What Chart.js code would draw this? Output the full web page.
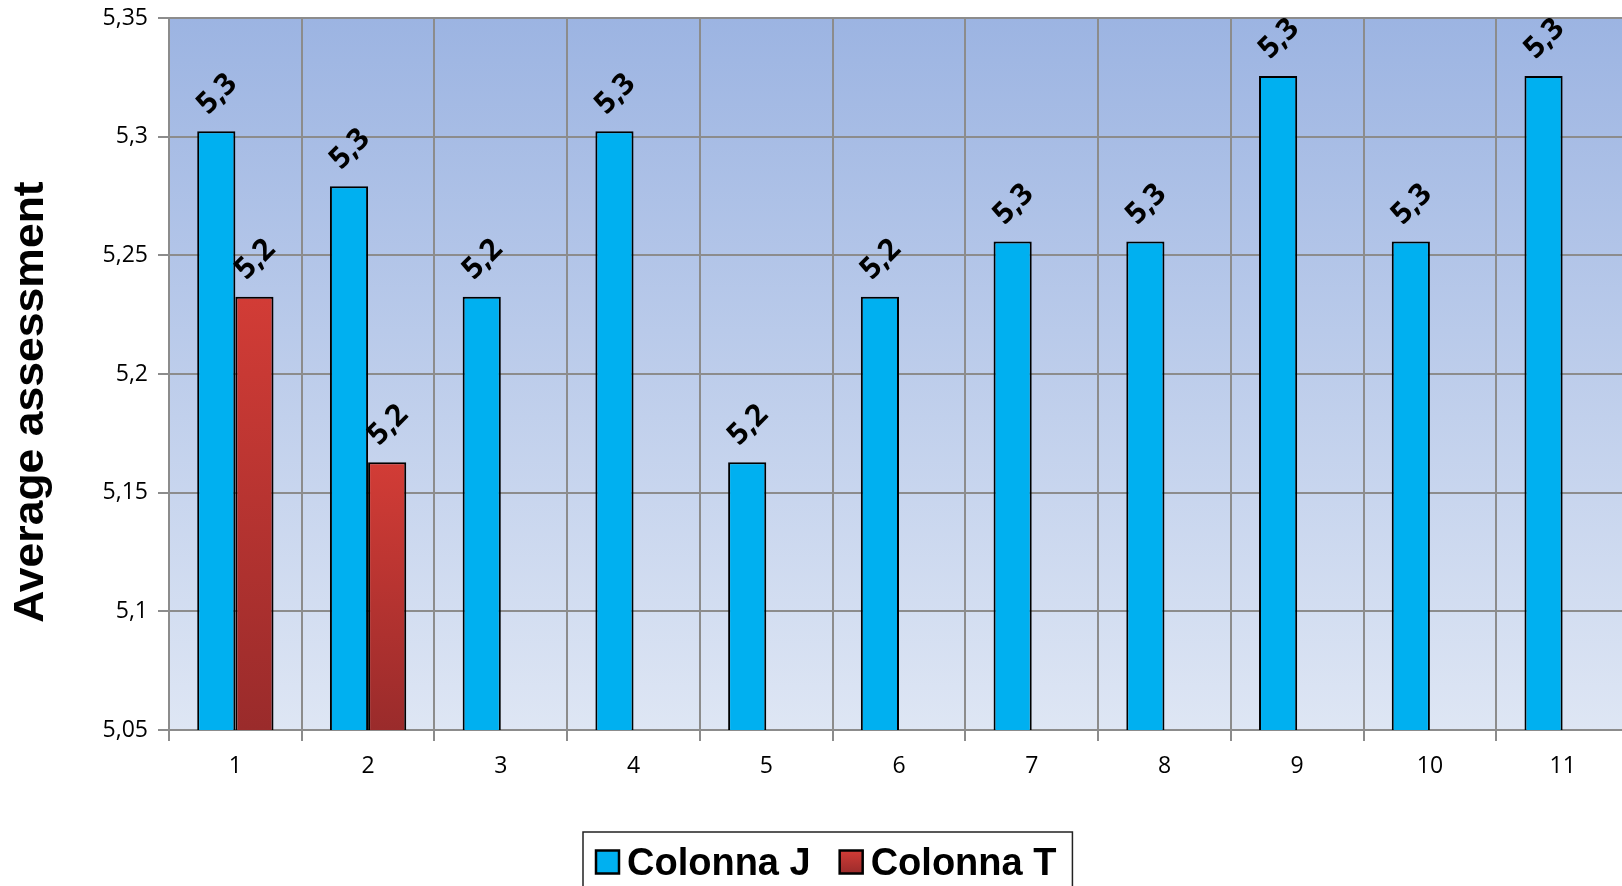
<!DOCTYPE html>
<html>
<head>
<meta charset="utf-8">
<script src="https://cdn.jsdelivr.net/npm/chart.js@4/dist/chart.umd.min.js"></script>
<style>
  html, body { margin: 0; padding: 0; background: #fff; overflow: hidden; }
  #chart { display: block; }
</style>
</head>
<body>
<canvas id="chart" width="1629" height="886"></canvas>
<script>
// dati
const categories = ['1', '2', '3', '4', '5', '6', '7', '8', '9', '10', '11'];
const colonnaJ = [5.3023, 5.2791, 5.2326, 5.3023, 5.1628, 5.2326, 5.2558, 5.2558, 5.3256, 5.2558, 5.3256];
const colonnaT = [5.2326, 5.1628, null, null, null, null, null, null, null, null, null];
const seriesNames = ['Colonna J', 'Colonna T'];
const yTickLabels = ['5,05', '5,1', '5,15', '5,2', '5,25', '5,3', '5,35'];
const yTitle = 'Average assessment';

const BLUE = '#00b0f0';

function redGradient(ctx) {
    const chart = ctx.chart;
    const area = chart.chartArea;
    if (!area || ctx.raw == null) return '#b83331';
    const top = chart.scales.y.getPixelForValue(ctx.raw);
    const g = chart.ctx.createLinearGradient(0, top, 0, area.bottom);
    g.addColorStop(0, '#d23c36');
    g.addColorStop(1, '#9a2b2b');
    return g;
}

// sfondo sfumato dell'area del grafico
const plotBackground = {
    id: 'plotBackground',
    beforeDraw(chart) {
        const { ctx, chartArea } = chart;
        const g = ctx.createLinearGradient(0, chartArea.top, 0, chartArea.bottom);
        g.addColorStop(0, '#9cb4e2');
        g.addColorStop(1, '#dee6f4');
        ctx.save();
        ctx.fillStyle = g;
        ctx.fillRect(chartArea.left, chartArea.top, chartArea.right - chartArea.left, chartArea.bottom - chartArea.top);
        ctx.restore();
    }
};

// etichette ruotate sopra le barre
const barLabels = {
    id: 'barLabels',
    afterDatasetsDraw(chart) {
        const ctx = chart.ctx;
        ctx.save();
        ctx.font = 'bold 30px "Open Sans"';
        ctx.fillStyle = '#000';
        ctx.textAlign = 'center';
        ctx.textBaseline = 'middle';
        chart.data.datasets.forEach((ds, i) => {
            const meta = chart.getDatasetMeta(i);
            meta.data.forEach((bar, j) => {
                const v = ds.data[j];
                if (v == null) return;
                ctx.save();
                ctx.translate(bar.x + 1, bar.y - 37);
                ctx.rotate(-Math.PI / 4);
                ctx.fillText(v.toFixed(1).replace('.', ','), 0, 0);
                ctx.restore();
            });
        });
        ctx.restore();
    }
};

// titolo asse y e legenda disegnati a mano
const extras = {
    id: 'extras',
    afterDraw(chart) {
        const ctx = chart.ctx;
        ctx.save();
        ctx.fillStyle = '#000';
        ctx.font = 'bold 42px "Liberation Sans", Arial';
        ctx.textAlign = 'center';
        ctx.textBaseline = 'middle';
        ctx.translate(31, 402);
        ctx.rotate(-Math.PI / 2);
        ctx.scale(1.06, 1);
        ctx.fillText(yTitle, 0, 0);
        ctx.restore();

        ctx.save();
        ctx.font = 'bold 38px "Liberation Sans", Arial';
        ctx.textBaseline = 'middle';
        const box = 23, gapBox = 8, gapItem = 29;
        const widths = seriesNames.map(n => ctx.measureText(n).width);
        let x = 596;
        const cy = 862;
        const total = box * 2 + gapBox * 2 + gapItem + widths[0] + widths[1];
        ctx.strokeStyle = '#222';
        ctx.lineWidth = 1.5;
        ctx.strokeRect(583, 832, total + 29, 80);
        seriesNames.forEach((name, i) => {
            if (i === 0) {
                ctx.fillStyle = BLUE;
            } else {
                const g = ctx.createLinearGradient(0, cy - box / 2, 0, cy + box / 2);
                g.addColorStop(0, '#d23c36');
                g.addColorStop(1, '#9a2b2b');
                ctx.fillStyle = g;
            }
            ctx.fillRect(x, cy - box / 2, box, box);
            ctx.lineWidth = 2.5;
            ctx.strokeStyle = '#000';
            ctx.strokeRect(x, cy - box / 2, box, box);
            x += box + gapBox;
            ctx.fillStyle = '#000';
            ctx.fillText(name, x, cy + 3);
            x += widths[i] + gapItem;
        });
        ctx.restore();
    }
};

new Chart(document.getElementById('chart'), {
    type: 'bar',
    data: {
        labels: categories,
        datasets: [{
            label: seriesNames[0],
            data: colonnaJ,
            backgroundColor: BLUE,
            borderColor: '#000',
            borderWidth: 2,
            borderSkipped: false
        }, {
            label: seriesNames[1],
            data: colonnaT,
            backgroundColor: redGradient,
            borderColor: '#000',
            borderWidth: 2,
            borderSkipped: false
        }]
    },
    options: {
        responsive: false,
        animation: false,
        layout: { padding: { top: 18, left: 0, right: 0, bottom: 0 } },
        datasets: { bar: { barPercentage: 1, categoryPercentage: 0.575 } },
        plugins: {
            legend: { display: false },
            tooltip: { enabled: false }
        },
        scales: {
            x: {
                grid: { color: '#8c8c8c', lineWidth: 2, offset: true, tickLength: 11 },
                border: { color: '#8c8c8c', width: 2 },
                ticks: { color: '#000', font: { family: '"Open Sans"', size: 23 }, padding: 12, maxRotation: 0 },
                afterFit(scale) { scale.height = 156; }
            },
            y: {
                min: 5.05,
                max: 5.35,
                grid: { color: '#8c8c8c', lineWidth: 2, tickLength: 11 },
                border: { color: '#8c8c8c', width: 2 },
                ticks: {
                    stepSize: 0.05,
                    color: '#000',
                    font: { family: '"Open Sans"', size: 23 },
                    padding: 10,
                    callback: (v, i) => yTickLabels[i]
                },
                afterFit(scale) {
                    scale.width = 169;
                    scale.paddingTop = 0;
                    scale.paddingBottom = 0;
                }
            }
        }
    },
    plugins: [plotBackground, barLabels, extras]
});
</script>
</body>
</html>
